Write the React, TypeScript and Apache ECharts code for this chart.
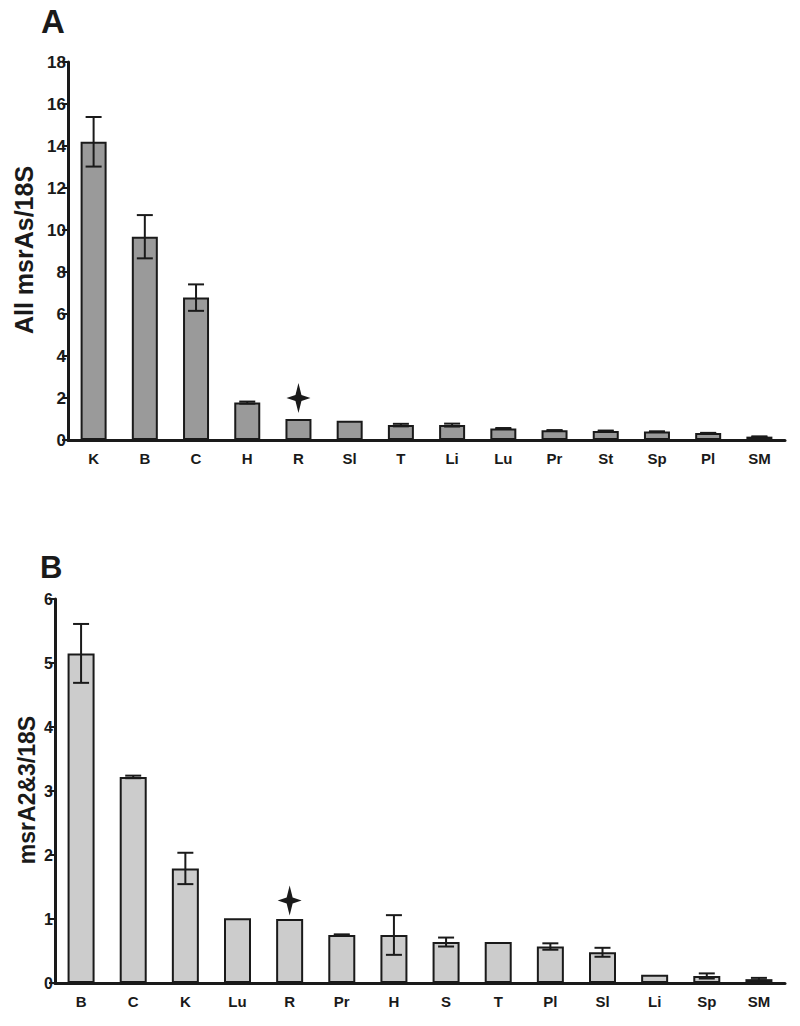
import React, { useEffect, useRef } from "react";
import * as echarts from "echarts";

const catsA = ["K", "B", "C", "H", "R", "Sl", "T", "Li", "Lu", "Pr", "St", "Sp", "Pl", "SM"];
const valsA = [14.2, 9.68, 6.78, 1.78, 1.0, 0.92, 0.71, 0.71, 0.55, 0.46, 0.43, 0.4, 0.33, 0.16];
const errA = [1.18, 1.03, 0.63, 0.05, 0, 0, 0.06, 0.07, 0.02, 0.01, 0.02, 0.01, 0.01, 0.01];
const ticksA = { min: 0, max: 18, interval: 2 };
const starA = ["R", 2.0];

const catsB = ["B", "C", "K", "Lu", "R", "Pr", "H", "S", "T", "Pl", "Sl", "Li", "Sp", "SM"];
const valsB = [5.15, 3.22, 1.79, 1.01, 1.0, 0.75, 0.75, 0.64, 0.64, 0.57, 0.48, 0.13, 0.11, 0.06];
const errB = [0.46, 0.02, 0.245, 0, 0, 0.01, 0.31, 0.07, 0, 0.05, 0.07, 0, 0.04, 0.02];
const ticksB = { min: 0, max: 6, interval: 1 };
const starB = ["R", 1.29];

const FONT = "'Liberation Sans', Arial, sans-serif";
const INK = "#1a1a1a";
const STAR = "path://M12,0 L15,12 L24,15 L15,18 L12,30 L9,18 L0,15 L9,12 Z";

function errSeries(vals: number[], err: number[], axis: number) {
  return {
    type: "custom",
    xAxisIndex: axis,
    yAxisIndex: axis,
    z: 5,
    data: vals.map((v, i) => [i, v - err[i], v + err[i]]),
    renderItem: (params: any, api: any) => {
      const i = api.value(0);
      const lo = api.coord([i, api.value(1)]);
      const hi = api.coord([i, api.value(2)]);
      const hw = 8;
      const style = { stroke: INK, lineWidth: 2 };
      if (api.value(2) - api.value(1) <= 0) return { type: "group", children: [] };
      return {
        type: "group",
        children: [
          { type: "line", shape: { x1: hi[0], y1: hi[1], x2: lo[0], y2: lo[1] }, style },
          { type: "line", shape: { x1: hi[0] - hw, y1: hi[1], x2: hi[0] + hw, y2: hi[1] }, style },
          { type: "line", shape: { x1: lo[0] - hw, y1: lo[1], x2: lo[0] + hw, y2: lo[1] }, style },
        ],
      };
    },
  };
}

function yAxis(grid: number, t: { min: number; max: number; interval: number }, fs: number) {
  return {
    type: "value",
    gridIndex: grid,
    min: t.min,
    max: t.max,
    interval: t.interval,
    splitLine: { show: false },
    axisLine: { show: true, lineStyle: { color: INK, width: 3 } },
    axisTick: { show: true, length: 6, lineStyle: { color: INK, width: 2 } },
    axisLabel: {
      show: true,
      textStyle: undefined,
      color: INK,
      fontSize: fs,
      fontWeight: "bold",
      fontFamily: FONT,
      margin: 2,
    },
  };
}

function xAxis(grid: number, cats: string[]) {
  return {
    type: "category",
    gridIndex: grid,
    data: cats,
    axisLine: { show: true, onZero: false, lineStyle: { color: INK, width: 3 } },
    axisTick: { show: false },
    axisLabel: { color: INK, fontSize: 15, fontWeight: "bold", fontFamily: FONT, margin: 11, interval: 0 },
  };
}

export default function App() {
  const ref = useRef<HTMLDivElement>(null);
  useEffect(() => {
    document.body.style.margin = "0";
    const chart = echarts.init(ref.current!, undefined, { renderer: "svg" });
    chart.setOption({
      animation: false,
      backgroundColor: "#ffffff",
      grid: [
        { left: 68, right: 15, top: 62, height: 378 },
        { left: 55, right: 15, top: 599, height: 384 },
      ],
      xAxis: [xAxis(0, catsA), xAxis(1, catsB)],
      yAxis: [yAxis(0, ticksA, 17), yAxis(1, ticksB, 16)],
      graphic: [
        { type: "text", left: 41, top: 5, style: { text: "A", fontSize: 33, fontWeight: "bold", fontFamily: FONT, fill: INK } },
        { type: "text", left: 40, top: 552, style: { text: "B", fontSize: 31, fontWeight: "bold", fontFamily: FONT, fill: INK } },
        {
          type: "text", x: 24, y: 250, rotation: Math.PI / 2,
          style: { text: "All msrAs/18S", fontSize: 25, fontWeight: "bold", fontFamily: FONT, fill: INK, align: "center", verticalAlign: "middle" },
        },
        {
          type: "text", x: 27, y: 790, rotation: Math.PI / 2,
          style: { text: "msrA2&3/18S", fontSize: 23, fontWeight: "bold", fontFamily: FONT, fill: INK, align: "center", verticalAlign: "middle" },
        },
      ],
      series: [
        {
          type: "bar", xAxisIndex: 0, yAxisIndex: 0, data: valsA, barWidth: 26,
          itemStyle: { color: "#9a9a9a", borderColor: INK, borderWidth: 2 },
        },
        errSeries(valsA, errA, 0),
        {
          type: "scatter", xAxisIndex: 0, yAxisIndex: 0, data: [starA], symbol: STAR, symbolSize: [24, 30],
          itemStyle: { color: INK, opacity: 1 }, z: 6,
        },
        {
          type: "bar", xAxisIndex: 1, yAxisIndex: 1, data: valsB, barWidth: 27,
          itemStyle: { color: "#cccccc", borderColor: INK, borderWidth: 2 },
        },
        errSeries(valsB, errB, 1),
        {
          type: "scatter", xAxisIndex: 1, yAxisIndex: 1, data: [starB], symbol: STAR, symbolSize: [24, 30],
          itemStyle: { color: INK, opacity: 1 }, z: 6,
        },
      ],
    });
    return () => chart.dispose();
  }, []);
  return <div ref={ref} style={{ width: 800, height: 1026 }} />;
}
